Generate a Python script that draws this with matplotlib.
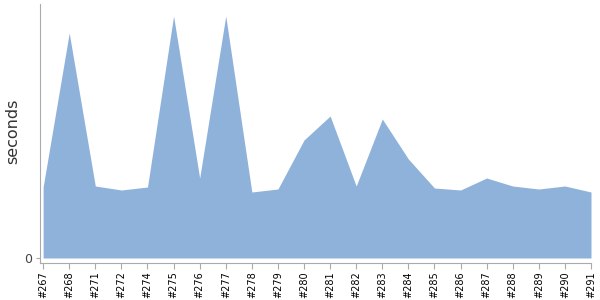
import matplotlib.pyplot as plt
import matplotlib as mpl

mpl.rcParams["font.family"] = "DejaVu Sans"

builds = ["#267", "#268", "#271", "#272", "#274", "#275", "#276", "#277",
          "#278", "#279", "#280", "#281", "#282", "#283", "#284", "#285",
          "#286", "#287", "#288", "#289", "#290", "#291"]
seconds = [71, 225, 72, 68, 71, 242, 80, 242, 66, 69, 118, 142, 72, 139,
           99, 70, 68, 80, 72, 69, 72, 66]

FILL = "#8fb2da"
AXIS = "#aaaaaa"

fig = plt.figure(figsize=(6, 3), dpi=100)
ax = fig.add_axes([40 / 600, 1 - 263 / 300, 551 / 600, 259 / 300])

x = list(range(len(builds)))
ax.fill_between(x, 0, seconds, color=FILL, linewidth=0)

ax.set_xlim(-0.12, len(builds) - 1)
ax.set_ylim(-5, 254)

ax.set_xticks(x)
ax.set_xticklabels(builds, rotation=90, fontsize=7, color="black")
ax.set_yticks([0])
ax.set_yticklabels(["0"], fontsize=9, color="#444444")
ax.tick_params(axis="x", length=4, color=AXIS, width=0.8, pad=2)
ax.tick_params(axis="y", length=3, color=AXIS, width=0.8, pad=3)

for side in ("top", "right"):
    ax.spines[side].set_visible(False)
for side in ("left", "bottom"):
    ax.spines[side].set_color(AXIS)
    ax.spines[side].set_linewidth(0.8)

ax.set_ylabel("seconds", fontsize=11.5, color="#333333", va="center")
ax.yaxis.set_label_coords(-0.05, 0.51)

fig.savefig("out.png", dpi=100)
